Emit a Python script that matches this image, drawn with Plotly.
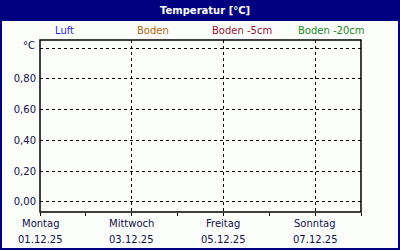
import plotly.graph_objects as go

# ---- data ----
title_text = "Temperatur [°C]"
unit_label = "°C"
series_names = ["Luft", "Boden", "Boden -5cm", "Boden -20cm"]
series_colors = ["#2a2af0", "#b8650f", "#9a1030", "#1a8a1a"]
series_x = [[], [], [], []]
series_y = [[], [], [], []]
day_positions = [0, 2, 4, 6]
day_names = ["Montag", "Mittwoch", "Freitag", "Sonntag"]
day_dates = ["01.12.25", "03.12.25", "05.12.25", "07.12.25"]
y_tickvals = [0.0, 0.2, 0.4, 0.6, 0.8, 1.0]
y_ticktext = ["0,00", "0,20", "0,40", "0,60", "0,80", ""]

# ---- layout geometry (pixels) ----
W, H = 400, 250
L, R, T, B = 40, 39, 40, 38
PW, PH = W - L - R, H - T - B

def px_x(p):  # pixel x -> paper
    return (p - L) / PW

def px_y(p):  # pixel y (from top) -> paper
    return (H - B - p) / PH

navy = "#000080"
font = "DejaVu Sans"
txt = "#10104a"

fig = go.Figure()
for name, col, xs, ys in zip(series_names, series_colors, series_x, series_y):
    fig.add_trace(go.Scatter(x=xs, y=ys, mode="lines", name=name,
                             line=dict(color=col, width=1), showlegend=False))

shapes = [
    dict(type="rect", xref="paper", yref="paper", x0=px_x(0), x1=px_x(W), y0=px_y(0), y1=px_y(21),
         fillcolor=navy, line=dict(width=0), layer="below"),
    dict(type="rect", xref="paper", yref="paper", x0=px_x(1), x1=px_x(W - 1), y0=px_y(1), y1=px_y(H - 1),
         fillcolor="rgba(0,0,0,0)", line=dict(color=navy, width=2), layer="above"),
    dict(type="rect", xref="paper", yref="paper", x0=0, x1=1, y0=0, y1=1,
         fillcolor="rgba(0,0,0,0)", line=dict(color="black", width=1.5), layer="above"),
]

annotations = [
    dict(text="<b>" + title_text + "</b>", xref="paper", yref="paper", x=px_x(205), y=px_y(10.5),
         showarrow=False, font=dict(family=font, size=10, color="white"), xanchor="center", yanchor="middle"),
    dict(text=unit_label, xref="paper", yref="paper", x=px_x(37), y=px_y(45),
         showarrow=False, font=dict(family=font, size=10, color=txt), xanchor="right", yanchor="middle"),
]
legend_centers = [64, 153, 242, 331]
for name, col, cx in zip(series_names, series_colors, legend_centers):
    annotations.append(dict(text=name, xref="paper", yref="paper", x=px_x(cx), y=px_y(31),
                            showarrow=False, font=dict(family=font, size=10, color=col),
                            xanchor="center", yanchor="middle"))
for xp, dn, dd in zip(day_positions, day_names, day_dates):
    annotations.append(dict(text=dn, xref="x", yref="paper", x=xp, y=px_y(223),
                            showarrow=False, font=dict(family=font, size=10, color=txt),
                            xanchor="center", yanchor="middle"))
    annotations.append(dict(text=dd, xref="x", yref="paper", x=xp, y=px_y(239),
                            showarrow=False, font=dict(family=font, size=10, color=txt),
                            xanchor="center", yanchor="middle"))

fig.update_layout(
    width=W, height=H, margin=dict(l=L, r=R, t=T, b=B, pad=0),
    paper_bgcolor="#fcfefc", plot_bgcolor="#fcfefc",
    showlegend=False, shapes=shapes, annotations=annotations,
    separators=",.",
    font=dict(family=font, size=10, color=txt),
)
fig.update_xaxes(range=[0, 7], tickmode="array", tickvals=day_positions, ticktext=["", "", "", ""],
                 ticks="outside", ticklen=3, tickcolor="black", tickwidth=1,
                 showgrid=True, gridcolor="black", griddash="3px,3px", gridwidth=1,
                 minor=dict(dtick=1, tick0=0, ticks="outside", ticklen=3, tickcolor="black", showgrid=False),
                 showline=False, zeroline=False, fixedrange=True)
fig.update_yaxes(range=[-0.065, 1.052], tickmode="array", tickvals=y_tickvals, ticktext=y_ticktext,
                 ticks="", showgrid=True, gridcolor="black", griddash="3px,3px", gridwidth=1,
                 showline=False, zeroline=False, ticklabelstandoff=3,
                 tickfont=dict(family=font, size=10, color=txt), fixedrange=True)

fig.write_html("out.html", config=dict(displayModeBar=False))
